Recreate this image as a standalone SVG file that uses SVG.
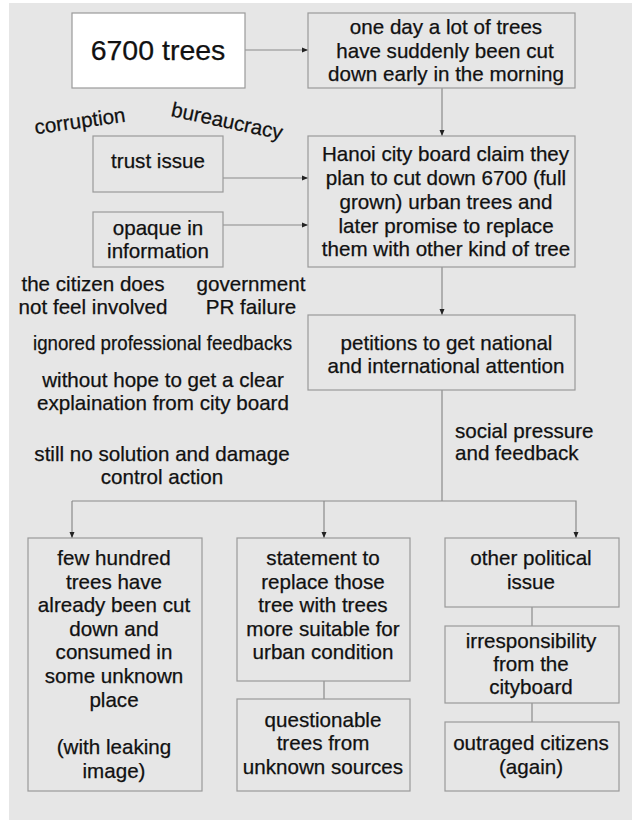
<svg xmlns="http://www.w3.org/2000/svg" width="632" height="820" viewBox="0 0 632 820">
<defs>
<style>
.box{fill:#e6e6e6;stroke:#9a9a9a;stroke-width:1.2}
.t{font-family:"Liberation Sans",Arial,sans-serif;font-size:20.6px;fill:#111;stroke:#111;stroke-width:0.25;text-anchor:middle}
.l{fill:none;stroke:#8a8a8a;stroke-width:1.2}
</style>
<marker id="ah" markerWidth="8" markerHeight="8" refX="6" refY="3" orient="auto" markerUnits="userSpaceOnUse"><path d="M0,0.5 L6,3 L0,5.5 z" fill="#222"/></marker>
</defs>
<rect x="0" y="0" width="632" height="820" fill="#ffffff"/>
<rect x="9" y="3" width="623" height="817" fill="#e6e6e6"/>

<g id="connectors">
<line class="l" x1="245" y1="50" x2="308" y2="50" marker-end="url(#ah)"/>
<line class="l" x1="442" y1="88" x2="442" y2="136" marker-end="url(#ah)"/>
<line class="l" x1="223" y1="178" x2="308" y2="178" marker-end="url(#ah)"/>
<line class="l" x1="223" y1="225" x2="308" y2="225" marker-end="url(#ah)"/>
<line class="l" x1="442" y1="267" x2="442" y2="315" marker-end="url(#ah)"/>
<polyline class="l" points="442,390 442,501"/>
<polyline class="l" points="72,501 576,501 576,538" marker-end="url(#ah)"/>
<line class="l" x1="72" y1="501" x2="72" y2="538" marker-end="url(#ah)"/>
<line class="l" x1="324" y1="501" x2="324" y2="538" marker-end="url(#ah)"/>
<line class="l" x1="324" y1="681" x2="324" y2="699"/>
<line class="l" x1="532" y1="607" x2="532" y2="626"/>
<line class="l" x1="532" y1="703" x2="532" y2="722"/>
</g>

<g id="n6700">
<rect x="72" y="13" width="173" height="75" fill="#ffffff" stroke="#9a9a9a" stroke-width="1.2"/>
<text class="t" x="158" y="60" style="font-size:28.5px">6700 trees</text>
</g>
<g id="nOneDay">
<rect class="box" x="308" y="13" width="267" height="75"/>
<text class="t" x="446" y="34">one day a lot of trees</text>
<text class="t" x="445" y="57.5">have suddenly been cut</text>
<text class="t" x="446" y="81">down early in the morning</text>
</g>
<g id="nHanoi">
<rect class="box" x="308" y="136" width="267" height="131"/>
<text class="t" x="445.5" y="161">Hanoi city board claim they</text>
<text class="t" x="446" y="185">plan to cut down 6700 (full</text>
<text class="t" x="446" y="209">grown) urban trees and</text>
<text class="t" x="446" y="233">later promise to replace</text>
<text class="t" x="446" y="256">them with other kind of tree</text>
</g>
<g id="nTrust">
<rect class="box" x="93" y="136" width="130" height="56"/>
<text class="t" x="158" y="168">trust issue</text>
</g>
<g id="nOpaque">
<rect class="box" x="93" y="212" width="130" height="55"/>
<text class="t" x="158" y="235">opaque in</text>
<text class="t" x="158" y="258">information</text>
</g>
<g id="labels">
<text class="t" x="80" y="128" transform="rotate(-8 80 122)">corruption</text>
<text class="t" x="227" y="128" transform="rotate(12 227 122)">bureaucracy</text>
<text class="t" x="93" y="291">the citizen does</text>
<text class="t" x="93" y="314">not feel involved</text>
<text class="t" x="251" y="291">government</text>
<text class="t" x="251" y="314">PR failure</text>
<text class="t" x="162.5" y="350" textLength="259" lengthAdjust="spacingAndGlyphs">ignored professional feedbacks</text>
<text class="t" x="163" y="387">without hope to get a clear</text>
<text class="t" x="163" y="410">explaination from city board</text>
<text class="t" x="162" y="461">still no solution and damage</text>
<text class="t" x="162" y="484">control action</text>
<text class="t" x="455" y="438" style="text-anchor:start">social pressure</text>
<text class="t" x="455" y="460" style="text-anchor:start">and feedback</text>
</g>
<g id="nPetitions">
<rect class="box" x="308" y="315" width="267" height="75"/>
<text class="t" x="446.5" y="350">petitions to get national</text>
<text class="t" x="446" y="373">and international attention</text>
</g>
<g id="nFewHundred">
<rect class="box" x="28" y="538" width="174" height="253"/>
<text class="t" x="114" y="565">few hundred</text>
<text class="t" x="114" y="589">trees have</text>
<text class="t" x="114" y="612">already been cut</text>
<text class="t" x="114" y="636">down and</text>
<text class="t" x="114" y="659">consumed in</text>
<text class="t" x="114" y="683">some unknown</text>
<text class="t" x="114" y="707">place</text>
<text class="t" x="114" y="754">(with leaking</text>
<text class="t" x="114" y="778">image)</text>
</g>
<g id="nStatement">
<rect class="box" x="237" y="538" width="173" height="143"/>
<text class="t" x="323" y="565">statement to</text>
<text class="t" x="323" y="589">replace those</text>
<text class="t" x="323" y="612">tree with trees</text>
<text class="t" x="323" y="636">more suitable for</text>
<text class="t" x="323" y="659">urban condition</text>
</g>
<g id="nQuestionable">
<rect class="box" x="237" y="699" width="173" height="92"/>
<text class="t" x="323" y="727">questionable</text>
<text class="t" x="323" y="750">trees from</text>
<text class="t" x="323" y="774">unknown sources</text>
</g>
<g id="nOtherPolitical">
<rect class="box" x="445" y="538" width="174" height="69"/>
<text class="t" x="531" y="565">other political</text>
<text class="t" x="531" y="589">issue</text>
</g>
<g id="nIrresponsibility">
<rect class="box" x="445" y="626" width="174" height="77"/>
<text class="t" x="531" y="648">irresponsibility</text>
<text class="t" x="531" y="671">from the</text>
<text class="t" x="531" y="694">cityboard</text>
</g>
<g id="nOutraged">
<rect class="box" x="445" y="722" width="174" height="69"/>
<text class="t" x="531" y="750">outraged citizens</text>
<text class="t" x="531" y="774">(again)</text>
</g>
</svg>
